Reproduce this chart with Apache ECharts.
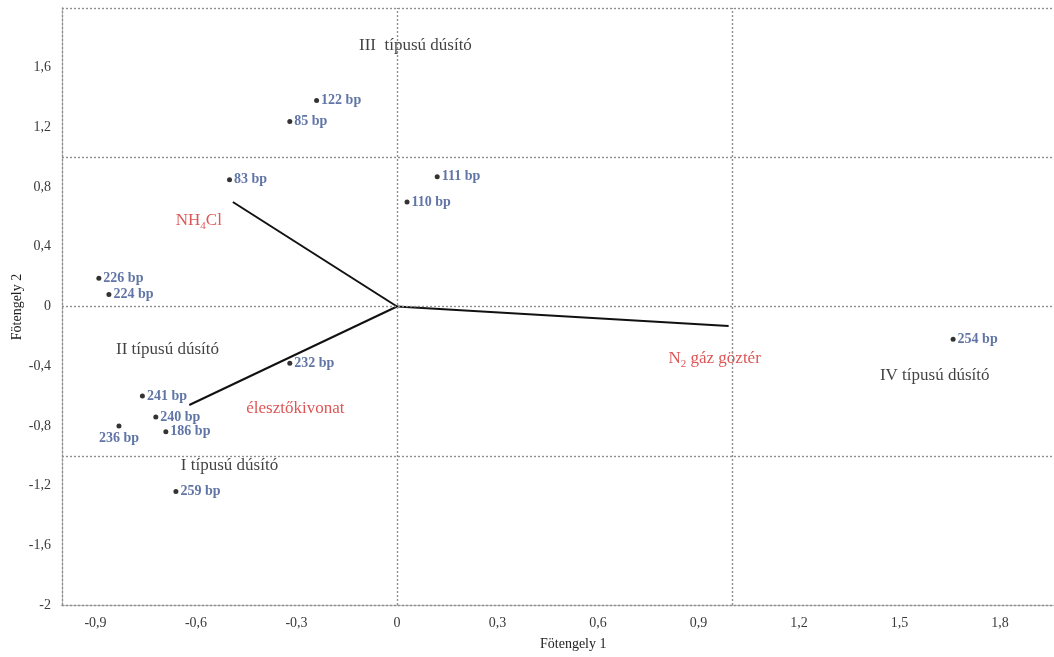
<!DOCTYPE html>
<html>
<head>
<meta charset="utf-8">
<script src="https://cdn.jsdelivr.net/npm/echarts@6/dist/echarts.min.js"></script>
<style>
  html, body { margin: 0; padding: 0; background: #fff; }
  #chart { width: 1054px; height: 657px; }
</style>
</head>
<body>
<div id="chart"></div>
<script>
// Sample scores on the two principal axes
const pointNames = ['122 bp', '85 bp', '83 bp', '111 bp', '110 bp', '226 bp', '224 bp',
                    '232 bp', '241 bp', '240 bp', '186 bp', '236 bp', '259 bp', '254 bp'];
const axis1Scores = [-0.24, -0.32, -0.50, 0.12, 0.03, -0.89, -0.86,
                     -0.32, -0.76, -0.72, -0.69, -0.83, -0.66, 1.66];
const axis2Scores = [1.38, 1.24, 0.85, 0.87, 0.70, 0.19, 0.08,
                     -0.38, -0.60, -0.74, -0.84, -0.80, -1.24, -0.22];

// Loading vectors of the enrichment variables
const vectorNames = ['NH4Cl', 'élesztőkivonat', 'N2 gáz göztér'];
const vectorAxis1 = [-0.49, -0.62, 0.99];
const vectorAxis2 = [0.70, -0.66, -0.13];

// Enrichment-type group captions
const groupNames = ['III  típusú dúsító', 'II típusú dúsító', 'I típusú dúsító', 'IV típusú dúsító'];

// Tick labels
const xTicks = [-0.9, -0.6, -0.3, 0, 0.3, 0.6, 0.9, 1.2, 1.5, 1.8];
const yTicks = [-2, -1.6, -1.2, -0.8, -0.4, 0, 0.4, 0.8, 1.2, 1.6];

const SERIF = '"Liberation Serif", "DejaVu Serif", serif';
const BLUE = '#385290';
const RED = '#d42a2a';
const GRIDLINE = { color: '#8f8f8f', width: 1.4, type: [2, 2] };
const fmt = v => String(Math.round(v * 10) / 10).replace('.', ',');

const chart = echarts.init(document.getElementById('chart'));

// Caption anchors (data coordinates) for the group names
const groupAnchors = [[0.055, 1.75], [-0.685, -0.29], [-0.50, -1.065], [1.605, -0.46]];
// Label offsets for the vector names relative to the vector tips
const vectorLabelOffsets = [[-34, 19], [106, 4], [-14, 33]];
const vectorRich = {
  r: { color: RED, fontFamily: SERIF, fontSize: 17 },
  s: { color: RED, fontFamily: SERIF, fontSize: 11, padding: [10, 0, 0, 0] }
};
const vectorText = [
  '{r|NH}{s|4}{r|Cl}',
  '{r|élesztőkivonat}',
  '{r|N}{s|2}{r| gáz göztér}'
];

const series = [];

// Vector lines from the origin
vectorNames.forEach((name, i) => {
  series.push({
    type: 'line',
    name: name,
    silent: true,
    symbol: 'none',
    lineStyle: { color: '#111', width: 2 },
    data: [[0, 0], [vectorAxis1[i], vectorAxis2[i]]],
    z: 3
  });
  series.push({
    type: 'scatter',
    silent: true,
    symbolSize: 0,
    data: [[vectorAxis1[i], vectorAxis2[i]]],
    label: {
      show: true,
      position: 'inside',
      offset: vectorLabelOffsets[i],
      formatter: vectorText[i],
      rich: vectorRich
    },
    z: 4
  });
});

// Sample points
series.push({
  type: 'scatter',
  name: 'samples',
  symbol: 'circle',
  symbolSize: 5,
  itemStyle: { color: '#000' },
  data: pointNames.map((n, i) => {
    const item = { name: n, value: [axis1Scores[i], axis2Scores[i]] };
    if (n === '236 bp') {
      item.label = { position: 'bottom', distance: 3 };
    }
    return item;
  }),
  label: {
    show: true,
    position: 'right',
    distance: 2,
    formatter: p => p.name,
    color: BLUE,
    fontFamily: SERIF,
    fontWeight: 'bold',
    fontSize: 14
  },
  z: 5,
  // Reference lines dividing the groups
  markLine: {
    silent: true,
    symbol: 'none',
    label: { show: false },
    lineStyle: GRIDLINE,
    data: [
      { xAxis: 0 }, { xAxis: 1 },
      { yAxis: 0 }, { yAxis: 1 }, { yAxis: -1 }, { yAxis: 2 }
    ]
  }
});

// Group captions
series.push({
  type: 'scatter',
  silent: true,
  symbolSize: 0,
  data: groupNames.map((n, i) => ({ name: n, value: groupAnchors[i] })),
  label: {
    show: true,
    position: 'inside',
    formatter: p => p.name,
    color: '#111',
    fontFamily: SERIF,
    fontSize: 17
  },
  z: 4
});

chart.setOption({
  animation: false,
  backgroundColor: '#fff',
  grid: { left: 62, right: -13, top: 8, bottom: 52, containLabel: false, outerBoundsMode: 'none' },
  xAxis: {
    type: 'value',
    min: -1,
    max: 2,
    splitLine: { show: false },
    axisTick: { show: false },
    axisLine: { show: true, onZero: false, lineStyle: GRIDLINE },
    axisLabel: {
      customValues: xTicks,
      formatter: fmt,
      color: '#3a3a3a',
      fontFamily: SERIF,
      fontSize: 14,
      margin: 11
    }
  },
  yAxis: {
    type: 'value',
    min: -2,
    max: 2,
    interval: 0.4,
    splitLine: { show: false },
    axisTick: { show: false },
    axisLine: { show: true, onZero: false, lineStyle: GRIDLINE },
    axisLabel: {
      customValues: yTicks,
      formatter: fmt,
      color: '#3a3a3a',
      fontFamily: SERIF,
      fontSize: 14,
      margin: 11
    }
  },
  // Axis titles
  graphic: [{
    type: 'text',
    left: 540,
    top: 637,
    style: { text: 'Fötengely 1', fill: '#222', font: '14px ' + SERIF }
  }, {
    type: 'text',
    x: 17,
    y: 307,
    rotation: Math.PI / 2,
    style: {
      text: 'Fötengely 2', fill: '#222', font: '14px ' + SERIF,
      align: 'center', verticalAlign: 'middle'
    }
  }],
  series: series
});
</script>
</body>
</html>
